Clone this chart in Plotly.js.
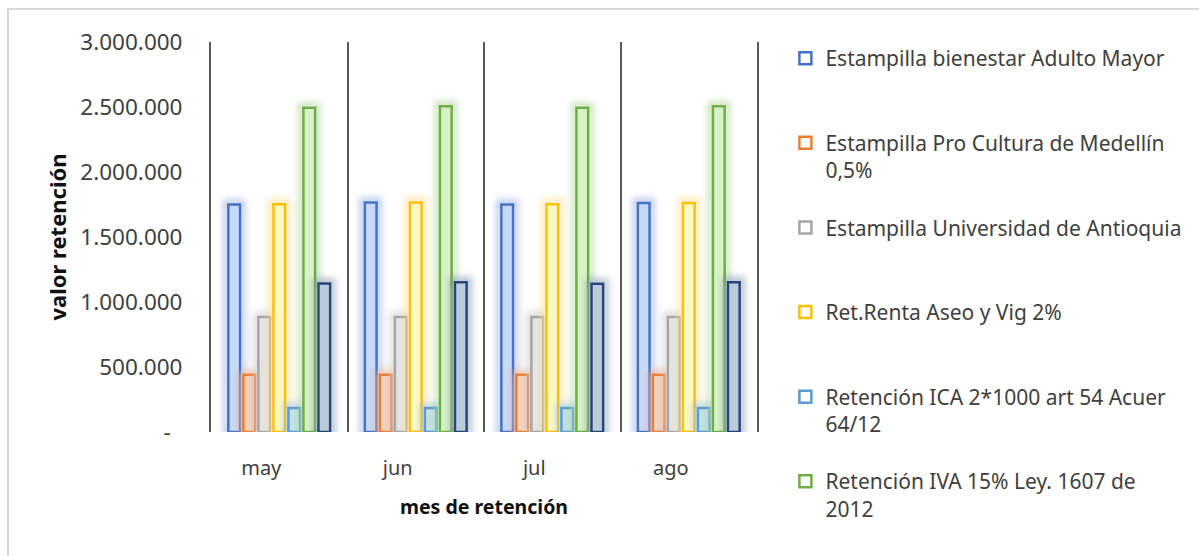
<!DOCTYPE html>
<html>
<head>
<meta charset="utf-8">
<script src="https://cdn.plot.ly/plotly-3.0.1.min.js"></script>
<style>
  html, body { margin: 0; padding: 0; background: #fff; }
  #chart { width: 1199px; height: 556px; position: relative; }
  #frame { position: absolute; left: 7px; top: 8px; width: 1300px; height: 700px;
           border-left: 2px solid #d9d9d9; border-top: 2px solid #d9d9d9; pointer-events: none; }
  .legend .legendpoints path { fill: #ffffff !important; }
</style>
</head>
<body>
<div id="chart"></div>
<div id="frame"></div>
<script>
// ---- data ----
const months = ['may', 'jun', 'jul', 'ago'];

const seriesNames = [
  'Estampilla bienestar Adulto Mayor',
  'Estampilla Pro Cultura de Medellín<br>0,5%',
  'Estampilla Universidad de Antioquia',
  'Ret.Renta Aseo y Vig 2%',
  'Retención ICA 2*1000 art 54 Acuer<br>64/12',
  'Retención IVA 15% Ley. 1607 de<br>2012',
  'Otras retenciones'
];

const adultoMayor   = [1750000, 1765000, 1750000, 1762000];
const proCultura    = [440000, 440000, 440000, 440000];
const universidad   = [885000, 885000, 885000, 885000];
const retRenta      = [1752000, 1765000, 1752000, 1762000];
const retICA        = [185000, 185000, 185000, 185000];
const retIVA        = [2495000, 2505000, 2495000, 2505000];
const otras         = [1143000, 1152000, 1140000, 1152000];

const yTickVals  = [0, 500000, 1000000, 1500000, 2000000, 2500000, 3000000];
const yTickText  = ['-\u00a0\u00a0', '500.000', '1.000.000', '1.500.000', '2.000.000', '2.500.000', '3.000.000'];

// ---- styles ----
const lineColors = ['#4472C4', '#ED7D31', '#A5A5A5', '#FFC000', '#5B9BD5', '#70AD47', '#264478'];
const fillColors = ['#C9DAF8', '#F4D3BF', '#E4E4E4', '#FFF8C4', '#C3E2E4', '#D8F2C8', '#BACBDC'];
const values = [adultoMayor, proCultura, universidad, retRenta, retICA, retIVA, otras];

const traces = values.map((v, i) => {
  let name = seriesNames[i];
  if (name.indexOf('<br>') < 0) name = name + '<br>\u00a0';
  return {
    type: 'bar',
    x: months,
    y: v,
    name: name,
    legendgroup: 'g' + i,
    showlegend: i < 6,
    marker: { color: fillColors[i], line: { color: lineColors[i], width: 2.5 } },
    hoverinfo: 'x+y'
  };
});

const layout = {
  width: 1199,
  height: 556,
  margin: { l: 211, r: 442, t: 42, b: 124 },
  paper_bgcolor: '#ffffff',
  plot_bgcolor: '#ffffff',
  font: { family: 'Noto Sans, sans-serif', size: 20, color: '#404040' },
  barmode: 'group',
  bargap: 0.23,
  bargroupgap: 0.22,
  showlegend: true,
  legend: {
    x: 1.052, xanchor: 'left',
    y: 1.01, yanchor: 'top',
    traceorder: 'grouped',
    tracegroupgap: 27,
    valign: 'top',
    maxheight: 700,
    font: { family: 'Noto Sans, sans-serif', size: 21, color: '#404040' },
    bgcolor: 'rgba(0,0,0,0)'
  },
  xaxis: {
    type: 'category',
    tickson: 'boundaries',
    showgrid: true,
    gridcolor: '#595959',
    gridwidth: 2,
    showline: false,
    zeroline: false,
    ticks: '',
    ticklabelstandoff: 22,
    ticklabelshift: -18,
    tickfont: { size: 20, color: '#404040' },
    title: { text: 'mes de retención', font: { size: 19.5, color: '#111111', family: 'Noto Sans, sans-serif', weight: 'bold' }, standoff: 20 }
  },
  yaxis: {
    range: [0, 3000000],
    tickmode: 'array',
    tickvals: yTickVals,
    ticktext: yTickText,
    showgrid: false,
    zeroline: false,
    showline: true,
    mirror: true,
    linecolor: '#595959',
    linewidth: 2,
    ticks: '',
    ticklabelstandoff: 22,
    tickfont: { size: 22.5, color: '#404040' },
    title: { text: 'valor retención', font: { size: 22, color: '#111111', family: 'Noto Sans, sans-serif', weight: 'bold' }, standoff: 8 }
  }
};

function addGlow(gd) {
  const ns = 'http://www.w3.org/2000/svg';
  const svg = gd.querySelector('.main-svg');
  let defs = svg.querySelector('defs');
  if (!defs) { defs = document.createElementNS(ns, 'defs'); svg.insertBefore(defs, svg.firstChild); }
  if (!svg.querySelector('#barglow')) {
    const f = document.createElementNS(ns, 'filter');
    f.setAttribute('id', 'barglow');
    f.setAttribute('x', '-150%'); f.setAttribute('y', '-50%');
    f.setAttribute('width', '400%'); f.setAttribute('height', '200%');
    f.innerHTML =
      '<feMorphology in="SourceGraphic" operator="dilate" radius="3" result="dil"/>' +
      '<feGaussianBlur in="dil" stdDeviation="3.5" result="blur"/>' +
      '<feComponentTransfer in="blur" result="soft"><feFuncA type="linear" slope="0.7"/></feComponentTransfer>' +
      '<feMerge><feMergeNode in="soft"/><feMergeNode in="SourceGraphic"/></feMerge>';
    defs.appendChild(f);
  }
  gd.querySelectorAll('.barlayer .point path').forEach(p => p.setAttribute('filter', 'url(#barglow)'));
}

Plotly.newPlot('chart', traces, layout, { displayModeBar: false, staticPlot: true })
  .then(gd => addGlow(gd));
</script>
</body>
</html>
